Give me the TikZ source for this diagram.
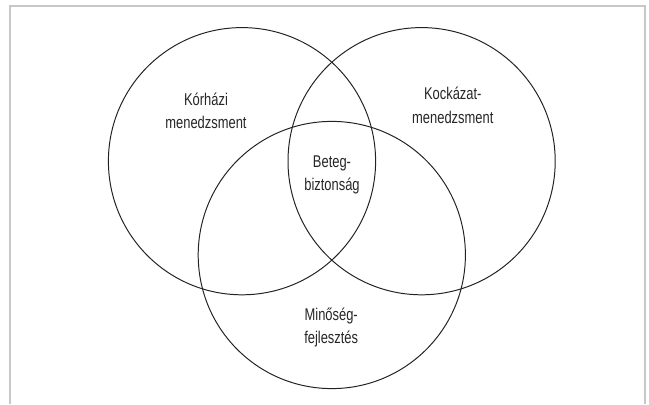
\documentclass[tikz,border=0pt]{standalone}
\usepackage{fontspec}
\newfontfamily\labelfont{Liberation Sans}[FakeStretch=0.76]
\definecolor{framegray}{HTML}{C8C8C8}
\definecolor{ringline}{HTML}{222222}
\begin{document}
\begin{tikzpicture}[ring/.style = {draw=ringline, line width=0.7pt, circle, minimum size=6.68cm, inner sep=0pt},
  txt/.style = {align=center, font=\labelfont\fontsize{12.1}{16.6}\selectfont, text=black!85, inner sep=0pt}]
\useasboundingbox (0,0) rectangle (16.225,10.1);
\draw[framegray, line width=1.4pt] (0.26,0) |- (16.125,9.96) -- (16.125,0);

\node[ring] (hosp) at (6.05,6.07) {};
\node[ring] (risk) at (10.54,6.07) {};
\node[ring] (qual) at (8.295,3.725) {};

\node[txt] (hosptxt) at (5.15,7.33) {Kórházi\\menedzsment};
\node[txt] (risktxt) at (11.32,7.47) {Kockázat-\\menedzsment};
\node[txt] (safetxt) at (8.3,5.72) {Beteg-\\biztonság};
\node[txt] (qualtxt) at (8.28,1.92) {Minőség-\\fejlesztés};

\end{tikzpicture}
\end{document}
